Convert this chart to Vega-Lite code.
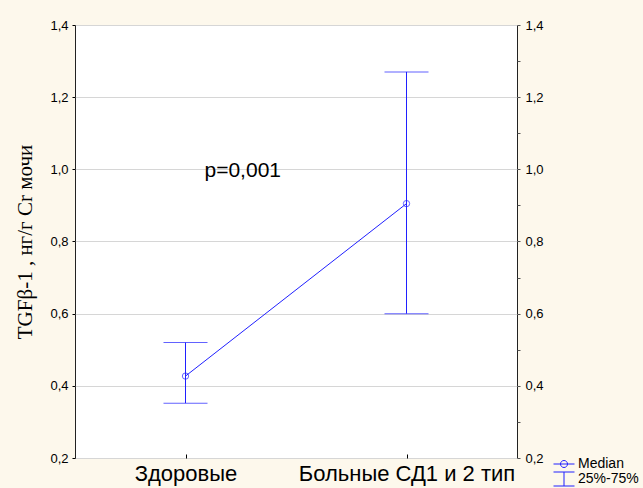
{
  "$schema": "https://vega.github.io/schema/vega-lite/v6.json",
  "width": 442,
  "height": 433,
  "autosize": "none",
  "padding": {"left": 75, "top": 25, "right": 126, "bottom": 30},
  "background": "#fdf8ec",
  "config": {
    "view": {"fill": "white", "stroke": "#222", "strokeWidth": 1},
    "font": "Liberation Sans"
  },
  "data": {
    "values": [
      {"group": "Здоровые", "median": 0.427, "q1": 0.352, "q3": 0.52},
      {"group": "Больные СД1 и 2 тип", "median": 0.905, "q1": 0.6, "q3": 1.27}
    ]
  },
  "encoding": {
    "x": {
      "field": "group",
      "type": "nominal",
      "sort": ["Здоровые", "Больные СД1 и 2 тип"],
      "scale": {"type": "point", "padding": 0.5},
      "axis": {
        "title": null,
        "labelAngle": 0,
        "labelFont": "Liberation Sans",
        "labelFontSize": 22,
        "labelColor": "#000",
        "labelLimit": 0,
        "labelPadding": 9,
        "tickSize": -4,
        "tickColor": "#000",
        "domain": false,
        "grid": false
      }
    }
  },
  "layer": [
    {
      "mark": {"type": "rule", "strokeWidth": 1},
      "encoding": {
        "y": {
          "field": "q1",
          "type": "quantitative",
          "scale": {"domain": [0.2, 1.4], "nice": false, "zero": false},
          "axis": {
            "orient": "left",
            "values": [0.2, 0.4, 0.6, 0.8, 1.0, 1.2, 1.4],
            "labelExpr": "replace(format(datum.value, '.1f'), '.', ',')",
            "labelFont": "Liberation Sans",
            "labelFontSize": 13,
            "labelColor": "#000",
            "labelPadding": 4,
            "tickSize": 3,
            "tickColor": "#000",
            "domain": false,
            "grid": true,
            "gridColor": "#d6d6d6",
            "gridWidth": 1,
            "title": "TGFβ-1 , нг/г Cr мочи",
            "titleFont": "Liberation Serif",
            "titleFontSize": 21,
            "titleFontWeight": "normal",
            "titleColor": "#000",
            "titlePadding": 14
          }
        },
        "y2": {"field": "q3"},
        "color": {
          "datum": "25%-75%",
          "scale": {"domain": ["Median", "25%-75%"], "range": ["#2020ff", "#2020ff"]},
          "legend": {
            "title": null,
            "orient": "none",
            "legendX": 482,
            "legendY": 432,
            "padding": 0,
            "symbolSize": 100,
            "symbolStrokeWidth": 1,
            "symbolFillColor": "transparent",
            "labelFont": "Liberation Sans",
            "labelFontSize": 14,
            "labelColor": "#000",
            "labelOffset": 7,
            "rowPadding": -1,
            "encode": {
              "symbols": {
                "update": {
                  "shape": {"signal": "datum.value === 'Median' ? 'M-2.1,0L2.1,0M-0.7,0A0.7,0.7 0 1,0 0.7,0A0.7,0.7 0 1,0 -0.7,0' : 'M-2.1,-1.4L2.1,-1.4M0,-1.4L0,1.4M-2.1,1.4L2.1,1.4'"},
                  "fill": {"value": "transparent"},
                  "fillOpacity": {"value": 0},
                  "stroke": {"value": "#2020ff"},
                  "strokeWidth": {"value": 1}
                }
              }
            }
          }
        }
      }
    },
    {
      "mark": {"type": "tick", "size": 44, "thickness": 1},
      "encoding": {
        "y": {"field": "q1", "type": "quantitative", "scale": {"domain": [0.2, 1.4], "nice": false, "zero": false}, "axis": null},
        "color": {"datum": "25%-75%"}
      }
    },
    {
      "mark": {"type": "tick", "size": 44, "thickness": 1},
      "encoding": {
        "y": {"field": "q3", "type": "quantitative", "scale": {"domain": [0.2, 1.4], "nice": false, "zero": false}, "axis": null},
        "color": {"datum": "25%-75%"}
      }
    },
    {
      "mark": {"type": "line", "strokeWidth": 1},
      "encoding": {
        "y": {
          "field": "median",
          "type": "quantitative",
          "scale": {"domain": [0.2, 1.4], "nice": false, "zero": false},
          "axis": {
            "orient": "right",
            "values": [0.2, 0.3, 0.4, 0.5, 0.6, 0.7, 0.8, 0.9, 1.0, 1.1, 1.2, 1.3, 1.4],
            "labelExpr": "round(datum.value * 10) % 2 == 0 ? replace(format(datum.value, '.1f'), '.', ',') : ''",
            "labelFont": "Liberation Sans",
            "labelFontSize": 13,
            "labelColor": "#000",
            "labelPadding": 5,
            "tickSize": 3,
            "tickColor": "#555",
            "domain": false,
            "grid": false,
            "title": null
          }
        },
        "color": {"datum": "Median"}
      }
    },
    {
      "mark": {"type": "point", "shape": "circle", "filled": false, "size": 40, "strokeWidth": 1},
      "encoding": {
        "y": {"field": "median", "type": "quantitative", "scale": {"domain": [0.2, 1.4], "nice": false, "zero": false}, "axis": null},
        "color": {"datum": "Median"}
      }
    },
    {
      "data": {"values": [{"group": "Здоровые", "y": 0.995, "label": "p=0,001"}]},
      "mark": {"type": "text", "align": "left", "baseline": "middle", "dx": 19, "fontSize": 21, "font": "Liberation Sans", "color": "#000"},
      "encoding": {
        "y": {"field": "y", "type": "quantitative", "scale": {"domain": [0.2, 1.4], "nice": false, "zero": false}, "axis": null},
        "text": {"field": "label"}
      }
    }
  ],
  "resolve": {"scale": {"y": "shared"}, "axis": {"y": "independent"}}
}
